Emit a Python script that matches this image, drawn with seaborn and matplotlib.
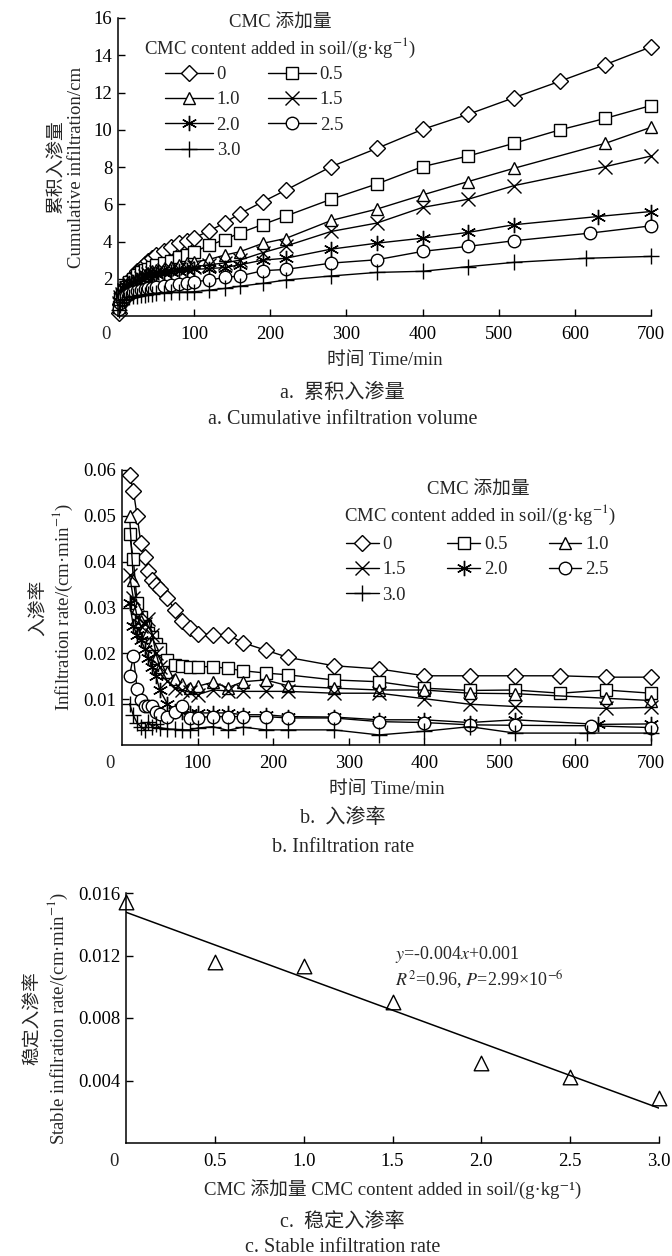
import matplotlib
matplotlib.use('Agg')
import matplotlib.pyplot as plt
import seaborn as sns
from matplotlib.ticker import FormatStrFormatter

sns.set_style('ticks')
plt.rcParams['font.family'] = ['Liberation Serif', 'Noto Sans CJK SC', 'DejaVu Serif']
plt.rcParams['mathtext.fontset'] = 'stix'
plt.rcParams['font.size'] = 13.5

# ---------------- data ----------------
levels = ['0', '0.5', '1.0', '1.5', '2.0', '2.5', '3.0']

# a. cumulative infiltration (cm)
time_a_early = [1, 3, 5, 8, 10, 15, 20, 25, 30, 35, 40, 45, 50, 60, 70, 80, 90, 100, 120, 140, 160, 190, 220]
# b. infiltration rate (cm/min)
time_b_early = [10, 15, 20, 25, 30, 35, 40, 45, 50, 60, 70, 80, 90, 100, 120, 140, 160, 190, 220]

time_late_0 = [280, 340, 400, 460, 520, 580, 640, 700]
time_late_05 = [280, 340, 400, 460, 520, 580, 640, 700]
time_late_10 = [280, 340, 400, 460, 520, 640, 700]
time_late_15 = [280, 340, 400, 460, 520, 640, 700]
time_late_20 = [280, 340, 400, 460, 520, 630, 700]
time_late_25 = [280, 340, 400, 460, 520, 620, 700]
time_late_30 = [280, 340, 400, 460, 520, 615, 700]

cum_0 = [0.15, 0.65, 0.95, 1.3, 1.5, 1.85, 2.15, 2.4, 2.6, 2.8, 2.95, 3.1, 3.25, 3.5, 3.7, 3.9, 4.05, 4.2, 4.57, 5.0, 5.5, 6.13, 6.75,
         8.02, 9.0, 10.02, 10.83, 11.72, 12.6, 13.5, 14.45]
cum_05 = [0.5, 0.9, 1.15, 1.4, 1.55, 1.8, 2.0, 2.2, 2.35, 2.45, 2.55, 2.65, 2.75, 2.85, 2.95, 3.15, 3.3, 3.45, 3.8, 4.1, 4.46, 4.91, 5.36,
          6.27, 7.09, 8.02, 8.59, 9.27, 9.99, 10.61, 11.3]
cum_10 = [0.6, 0.95, 1.15, 1.4, 1.5, 1.7, 1.85, 2.0, 2.1, 2.2, 2.3, 2.4, 2.45, 2.55, 2.65, 2.75, 2.85, 2.9, 3.04, 3.27, 3.45, 3.9, 4.16,
          5.13, 5.74, 6.5, 7.22, 7.93, 9.27, 10.13]
cum_15 = [0.7, 1.0, 1.2, 1.4, 1.5, 1.7, 1.85, 1.95, 2.05, 2.15, 2.25, 2.3, 2.35, 2.45, 2.5, 2.55, 2.6, 2.65, 2.75, 2.85, 3.0, 3.4, 3.75,
          4.54, 4.99, 5.83, 6.27, 7.0, 8.02, 8.59]
cum_20 = [0.8, 1.1, 1.3, 1.5, 1.6, 1.75, 1.85, 1.95, 2.0, 2.1, 2.15, 2.2, 2.25, 2.3, 2.35, 2.4, 2.45, 2.5, 2.55, 2.6, 2.75, 3.0, 3.1,
          3.59, 3.91, 4.18, 4.49, 4.9, 5.34, 5.61]
cum_25 = [0.4, 0.7, 0.85, 1.0, 1.1, 1.2, 1.3, 1.35, 1.4, 1.45, 1.5, 1.5, 1.55, 1.6, 1.65, 1.7, 1.75, 1.84, 1.93, 2.07, 2.15, 2.43, 2.5,
          2.84, 3.02, 3.47, 3.74, 4.04, 4.45, 4.84]
cum_30 = [0.3, 0.6, 0.75, 0.85, 0.9, 1.0, 1.05, 1.1, 1.12, 1.15, 1.18, 1.2, 1.22, 1.25, 1.27, 1.28, 1.29, 1.3, 1.39, 1.48, 1.6, 1.75, 1.93,
          2.15, 2.34, 2.4, 2.65, 2.88, 3.1, 3.2]

rate_0 = [0.059, 0.0555, 0.050, 0.044, 0.041, 0.038, 0.036, 0.035, 0.034, 0.032, 0.0295, 0.027, 0.0256, 0.0243, 0.0241, 0.0241, 0.0223, 0.0207, 0.0191,
          0.0173, 0.0166, 0.0151, 0.0151, 0.0151, 0.0151, 0.0148, 0.0148]
rate_05 = [0.046, 0.0405, 0.031, 0.028, 0.026, 0.0245, 0.0236, 0.022, 0.021, 0.0185, 0.0175, 0.0172, 0.0171, 0.0171, 0.0171, 0.0167, 0.0162, 0.0157, 0.0153,
           0.0142, 0.0138, 0.0124, 0.0119, 0.012, 0.0113, 0.012, 0.0113]
rate_10 = [0.050, 0.036, 0.030, 0.027, 0.026, 0.0247, 0.022, 0.019, 0.017, 0.016, 0.0145, 0.0133, 0.0124, 0.0128, 0.0137, 0.0125, 0.0138, 0.0142, 0.0129,
           0.0124, 0.012, 0.012, 0.0113, 0.0112, 0.0102, 0.0097]
rate_15 = [0.037, 0.032, 0.028, 0.026, 0.0265, 0.0276, 0.024, 0.020, 0.017, 0.014, 0.0125, 0.012, 0.0115, 0.011, 0.012, 0.0118, 0.0117, 0.0117, 0.0117,
           0.0113, 0.0113, 0.0101, 0.0089, 0.0084, 0.008, 0.0082]
rate_20 = [0.031, 0.026, 0.024, 0.023, 0.021, 0.019, 0.017, 0.015, 0.012, 0.009, 0.0075, 0.0072, 0.007, 0.007, 0.007, 0.007, 0.0066, 0.0066, 0.0062,
           0.0061, 0.0055, 0.0055, 0.0049, 0.0055, 0.0045, 0.0046]
rate_25 = [0.0151, 0.0194, 0.0122, 0.0099, 0.0086, 0.0086, 0.0086, 0.0073, 0.0068, 0.0062, 0.0071, 0.0086, 0.0059, 0.006, 0.0062, 0.0062, 0.0062, 0.0062, 0.0059,
           0.0059, 0.0051, 0.0049, 0.0044, 0.0043, 0.0042, 0.0038]
rate_30 = [0.009, 0.0065, 0.0048, 0.004, 0.0033, 0.0051, 0.004, 0.0045, 0.0038, 0.0035, 0.0034, 0.0033, 0.0033, 0.0037, 0.004, 0.0032, 0.0039, 0.0033, 0.0033,
           0.0033, 0.0022, 0.003, 0.004, 0.0026, 0.0026, 0.0026]

# c. stable infiltration rate
cmc = [0, 0.5, 1.0, 1.5, 2.0, 2.5, 3.0]
stable_rate = [0.0154, 0.0116, 0.0113, 0.0090, 0.0051, 0.0042, 0.0029]

late_times = [time_late_0, time_late_05, time_late_10, time_late_15, time_late_20, time_late_25, time_late_30]
cum_series = [cum_0, cum_05, cum_10, cum_15, cum_20, cum_25, cum_30]
rate_series = [rate_0, rate_05, rate_10, rate_15, rate_20, rate_25, rate_30]

markers = ['D', 's', '^', 'x', (6, 2, 0), 'o', '+']
msizes = [8, 9, 9, 10, 11, 9, 12]

W, H = 672, 1256


def fx(px):
    return px / W


def fy(py):
    return 1 - py / H


def style_axes(ax):
    sns.despine(ax=ax)
    ax.tick_params(direction='in', length=5, width=1, labelsize=13.5, colors='black')
    ax.tick_params(axis='x', pad=7)
    ax.tick_params(axis='y', pad=4)
    for s in ['left', 'bottom']:
        ax.spines[s].set_linewidth(1.1)
        ax.spines[s].set_color('black')
    ax.annotate('0', xy=(0, 0), xycoords='axes fraction', xytext=(-9, -7),
                textcoords='offset points', ha='center', va='top', fontsize=13.5)


def draw_series(ax, early, series):
    for i, lvl in enumerate(levels):
        t = early + late_times[i]
        sns.lineplot(x=t, y=series[i], ax=ax, color='black', lw=1, marker=markers[i],
                     ms=msizes[i], mfc='white', mec='black', mew=1, label=lvl,
                     legend=False, clip_on=False)


def add_legend(ax, order, ncol, x_px, y_px, hl, cs, title_xy):
    h = ax.get_lines()[:7]
    ax.legend([h[k] for k in order], [levels[k] for k in order], ncol=ncol,
              frameon=False, loc='upper left', bbox_to_anchor=(fx(x_px), fy(y_px)),
              bbox_transform=fig.transFigure, borderpad=0, borderaxespad=0,
              handlelength=hl, handletextpad=0.2, columnspacing=cs, labelspacing=0.44,
              fontsize=13.5)
    (x1, y1), (x2, y2) = title_xy
    fig.text(fx(x1), fy(y1), 'CMC 添加量', ha='center', va='center', fontsize=13.5)
    fig.text(fx(x2), fy(y2), 'CMC content added in soil/(g·kg$^{-1}$)', ha='center',
             va='center', fontsize=13.5)


fig = plt.figure(figsize=(W / 100, H / 100), dpi=100)

# ---------------- a ----------------
ax_a = fig.add_axes([fx(118), fy(316), 533 / W, 298 / H])
draw_series(ax_a, time_a_early, cum_series)
ax_a.set_xlim(0, 700)
ax_a.set_ylim(0, 16)
ax_a.set_xticks(range(100, 701, 100))
ax_a.set_yticks(range(2, 17, 2))
style_axes(ax_a)
ax_a.set_xlabel('时间 Time/min', labelpad=7)
ax_a.set_ylabel('累积入渗量\nCumulative infiltration/cm', labelpad=6)
add_legend(ax_a, [0, 2, 4, 6, 1, 3, 5], 2, 165, 66, 2.55, 1.5, ((280, 23), (280, 48)))

# ---------------- b ----------------
ax_b = fig.add_axes([fx(122), fy(745), 529 / W, 275 / H])
draw_series(ax_b, time_b_early, rate_series)
ax_b.set_xlim(0, 700)
ax_b.set_ylim(0, 0.06)
ax_b.set_xticks(range(100, 701, 100))
ax_b.set_yticks([0.01, 0.02, 0.03, 0.04, 0.05, 0.06])
ax_b.yaxis.set_major_formatter(FormatStrFormatter('%.2f'))
style_axes(ax_b)
ax_b.set_xlabel('时间 Time/min', labelpad=7)
ax_b.set_ylabel('入渗率\nInfiltration rate/(cm·min$^{-1}$)', labelpad=6)
add_legend(ax_b, [0, 3, 6, 1, 4, 2, 5], 3, 346, 536, 1.75, 2.2, ((478, 490), (480, 515)))

# ---------------- c ----------------
ax_c = fig.add_axes([fx(126), fy(1143), 533 / W, 250 / H])
sns.regplot(x=cmc, y=stable_rate, ax=ax_c, ci=None, color='black', marker='^',
            scatter_kws=dict(facecolors='white', edgecolors='black', s=110, linewidths=1,
                             alpha=1, clip_on=False),
            line_kws=dict(color='black', lw=1.1))
ax_c.set_xlim(0, 3.0)
ax_c.set_ylim(0, 0.016)
ax_c.set_xticks([0.5, 1.0, 1.5, 2.0, 2.5, 3.0])
ax_c.xaxis.set_major_formatter(FormatStrFormatter('%.1f'))
ax_c.set_yticks([0.004, 0.008, 0.012, 0.016])
ax_c.yaxis.set_major_formatter(FormatStrFormatter('%.3f'))
style_axes(ax_c)
ax_c.set_xlabel('CMC 添加量 CMC content added in soil/(g·kg⁻¹)', labelpad=7)
ax_c.set_ylabel('稳定入渗率\nStable infilration rate/(cm·min$^{-1}$)', labelpad=6)
ax_c.text(0.505, 0.736, '$y$=-0.004$x$+0.001', transform=ax_c.transAxes, fontsize=13)
ax_c.text(0.505, 0.628, '$R^{2}$=0.96, $P$=2.99×10$^{-6}$', transform=ax_c.transAxes, fontsize=13)

# ---------------- captions ----------------
fig.text(0.51, fy(393), 'a.  累积入渗量', ha='center', va='center', fontsize=14.5)
fig.text(0.51, fy(420), 'a. Cumulative infiltration volume', ha='center', va='center', fontsize=14.5)
fig.text(0.51, fy(818), 'b.  入渗率', ha='center', va='center', fontsize=14.5)
fig.text(0.51, fy(847), 'b. Infiltration rate', ha='center', va='center', fontsize=14.5)
fig.text(0.51, fy(1222), 'c.  稳定入渗率', ha='center', va='center', fontsize=14.5)
fig.text(0.51, fy(1247), 'c. Stable infiltration rate', ha='center', va='center', fontsize=14.5)

fig.savefig('out.png', dpi=100, facecolor='white')
